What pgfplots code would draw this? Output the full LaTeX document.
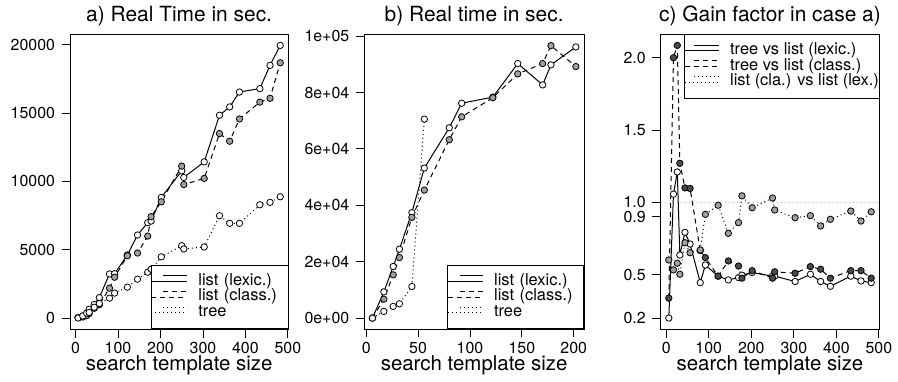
\documentclass[border=0pt]{standalone}
\usepackage{pgfplots}
\pgfplotsset{compat=1.18}
\usepackage{fontspec}
\setmainfont{TeX Gyre Heros}
\definecolor{lgray}{RGB}{160,160,160}
\definecolor{dgray}{RGB}{75,75,75}
\definecolor{refgray}{RGB}{175,175,175}

\pgfplotstableread{
x L C T
6 40 24 8
17 150 80 160
26 300 174 363
32 650 325 413
44 1000 720 793
56 1500 975 1068
80 3230 2190 1460
92 3250 2990 1830
122 4620 4560 2263
146 6080 4760 2847
170 6980 6000 3358
178 7100 7420 3577
202 8830 8510 4480
250 10770 11120 5300
255 10290 9770 5058
303 11430 10220 5204
339 14840 13500 7489
363 15450 12940 6934
386 16540 14570 6934
434 16790 15800 8292
458 18490 16080 8467
482 19950 18680 8876
}\tabA

\pgfplotstableread{
x L C
6 0 0
17 9300 6720
26 18300 15330
32 24440 21460
44 37400 35730
56 53200 45400
80 67480 63250
92 76200 71370
122 78350 78150
146 90260 86600
170 82700 90260
178 89800 96620
202 96150 89200
}\tabB

\pgfplotstableread{
x T
6 0
17 2365
26 4135
32 5085
44 11210
56 70550
}\tabBt

\pgfplotstableread{
x TL TC CL
6 0.200 0.338 0.602
17 1.057 2.000 0.533
26 1.210 2.085 0.579
32 0.636 1.270 0.503
44 0.793 1.100 0.721
56 0.712 1.096 0.652
80 0.445 0.667 0.671
92 0.567 0.618 0.917
122 0.490 0.490 0.980
146 0.464 0.595 0.786
170 0.480 0.560 0.860
178 0.497 0.476 1.045
202 0.515 0.528 0.963
250 0.490 0.476 1.030
255 0.490 0.520 0.947
303 0.453 0.510 0.894
339 0.503 0.556 0.908
363 0.453 0.538 0.837
386 0.420 0.476 0.883
434 0.490 0.528 0.940
458 0.457 0.528 0.871
482 0.445 0.476 0.935
}\tabC

\pgfplotsset{
  rstyle/.style={
    scale only axis,
    scaled ticks=false,
    axis line style={line width=0.8bp},
    tick style={line width=0.8bp, black},
    tick align=outside,
    major tick length=8.5bp,
    xtick pos=left, ytick pos=left,
    /pgf/number format/assume math mode=true,
    tick label style={font=\fontsize{16}{16}\selectfont},
    xticklabel style={yshift=-1bp},
    yticklabel style={xshift=-3bp},
    title style={font=\fontsize{21}{21}\selectfont, at={(0.5,1)}, anchor=base, yshift=7bp},
    xlabel style={font=\fontsize{20.5}{20.5}\selectfont, at={(axis description cs:0.5,0)}, anchor=base, yshift=-41bp},
    legend cell align=left,
    legend style={draw=black, line width=0.8bp, fill=white,
      font=\fontsize{16.5}{16.5}\selectfont,
      inner xsep=0bp, inner ysep=8bp, row sep=0bp,
      nodes={inner sep=0bp, text height=11.5bp, text depth=4.2bp}},
  },
  lexs/.style={black, line width=1bp, solid, mark=*, mark size=3.2bp,
    mark options={solid, fill=white, line width=0.8bp}},
  clas/.style={black, line width=1bp, dash pattern=on 5bp off 4bp, mark=*, mark size=3.2bp,
    mark options={solid, fill=lgray, line width=0.8bp}},
  tres/.style={black, line width=1bp, dash pattern=on 1bp off 3bp, mark=*, mark size=3.2bp,
    mark options={solid, fill=white, line width=0.8bp}},
}

\begin{document}
\begin{tikzpicture}
\useasboundingbox (0,0) rectangle (898bp,382bp);

% ---------- a ----------
\begin{axis}[rstyle,
  at={(70bp,53bp)}, anchor=south west, width=218.3bp, height=294.5bp,
  xmin=-13.04, xmax=501.04, ymin=-798, ymax=20748,
  xtick={0,100,200,300,400,500}, xticklabels={0,100,200,300,400,500},
  ytick={0,5000,10000,15000,20000}, yticklabels={0,5000,10000,15000,20000},
  title={a) Real Time in sec.}, xlabel={search template size},
  legend style={at={(1,0)}, anchor=south east,
    /tikz/every odd column/.append style={column sep=11bp},
    /tikz/every even column/.append style={text width=89.5bp}},
  legend image code/.code={\path (-11.5bp,0bp) -- (24bp,0bp); \draw[#1] (0bp,5.5bp) -- (24bp,5.5bp);},
]
\addplot[lexs] table[x=x,y=L] {\tabA};
\addplot[clas] table[x=x,y=C] {\tabA};
\addplot[tres] table[x=x,y=T] {\tabA};
\legend{list (lexic.),list (class.),tree}
\end{axis}

% ---------- b ----------
\begin{axis}[rstyle,
  at={(364.3bp,53bp)}, anchor=south west, width=219.7bp, height=294.5bp,
  xmin=-1.84, xmax=209.84, ymin=-3868, ymax=100568,
  xtick={0,50,100,150,200}, xticklabels={0,50,100,150,200},
  ytick={0,20000,40000,60000,80000,100000},
  yticklabels={0e+00,2e+04,4e+04,6e+04,8e+04,1e+05},
  title={b) Real time in sec.}, xlabel={search template size},
  legend style={at={(1,0)}, anchor=south east,
    /tikz/every odd column/.append style={column sep=11bp},
    /tikz/every even column/.append style={text width=89.5bp}},
  legend image code/.code={\path (-12bp,0bp) -- (23bp,0bp); \draw[#1] (0bp,5.5bp) -- (23bp,5.5bp);},
]
\addplot[lexs] table[x=x,y=L] {\tabB};
\addplot[clas] table[x=x,y=C] {\tabB};
\addplot[tres] table[x=x,y=T] {\tabBt};
\legend{list (lexic.),list (class.),tree}
\end{axis}

% ---------- c ----------
\begin{axis}[rstyle,
  at={(660.7bp,53bp)}, anchor=south west, width=218.6bp, height=294.5bp,
  xmin=-13.04, xmax=501.04, ymin=0.1246, ymax=2.1604,
  xtick={0,100,200,300,400,500}, xticklabels={0,100,200,300,400,500},
  ytick={0.2,0.5,0.9,1.0,1.5,2.0}, yticklabels={0.2,0.5,0.9,1.0,1.5,2.0},
  title={c) Gain factor in case a)}, xlabel={search template size},
  legend style={at={(1,1)}, anchor=north east,
    /tikz/every odd column/.append style={column sep=10.7bp}},
  legend image code/.code={\path (-9bp,0bp) -- (25bp,0bp); \draw[#1] (0bp,5.5bp) -- (25bp,5.5bp);},
]
\addplot[refgray, line width=1bp, dash pattern=on 1bp off 3bp, forget plot] coordinates {(-13.04,1) (501.04,1)};
\addplot[lexs] table[x=x,y=TL] {\tabC};
\addplot[clas, mark options={solid, fill=dgray, line width=0.8bp}] table[x=x,y=TC] {\tabC};
\addplot[tres, mark options={solid, fill=lgray, line width=0.8bp}] table[x=x,y=CL] {\tabC};
\legend{tree vs list (lexic.),tree vs list (class.),list (cla.) vs list (lex.)}
\end{axis}
\end{tikzpicture}
\end{document}
